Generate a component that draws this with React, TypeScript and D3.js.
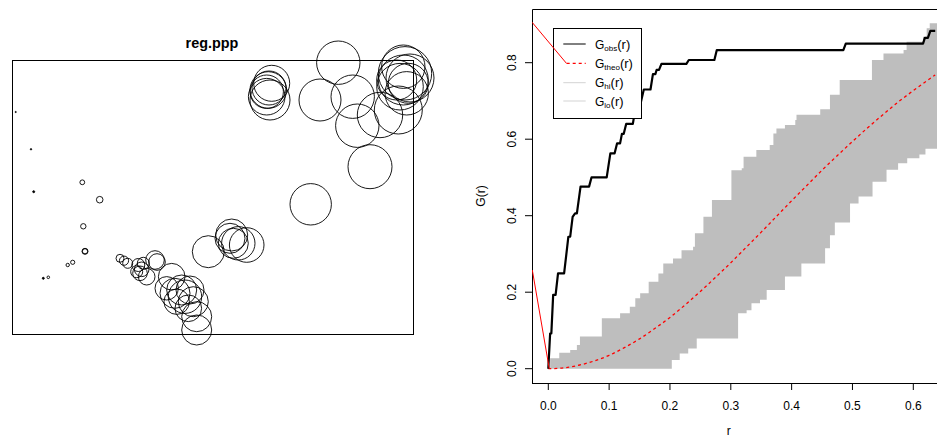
import * as d3 from "d3"

const FONT = "'Liberation Sans', Arial, Helvetica, sans-serif"

// ---- left panel: reg.ppp, window is 40.1 x 27.4 units, marks drawn as circles
const winW = 40.1
const winH = 27.4
const ptX = [0.37, 1.9, 2.17, 3.13, 3.63, 5.57, 6.07, 7.03, 8.77, 7.13, 7.3, 7.3, 10.8, 11.2, 11.57,
  12.63, 12.97, 12.8, 13.13, 13.47, 12.47, 14.3, 14.5,
  15.97, 15.47, 16.3, 16.97, 17.8, 17.3, 16.47, 18.13, 18.47, 18.47, 17.63,
  19.63, 21.97, 22.13, 22.63, 23.47, 21.8,
  29.87, 35.8, 34.53, 30.8, 32.63, 34.07, 36.8, 38.63,
  39.13, 39.3, 38.8, 39.47, 38.47, 39.13, 39.63, 39.8,
  25.63, 25.8, 25.47, 25.97, 25.47, 25.7]
const ptY = [22.2, 18.47, 14.23, 5.57, 5.67, 6.9, 7.17, 15.17, 13.43, 10.77, 8.27, 8.27, 7.57, 7.33, 7.07,
  6.9, 6.47, 6.07, 7.07, 5.73, 6.23, 7.4, 7.2,
  5.73, 4.57, 4.07, 4.4, 4.4, 3.73, 3.23, 3.23, 1.73, 0.4, 2.57,
  8.23, 9.9, 9.07, 9.07, 8.9, 9.57,
  12.97, 16.73, 20.83, 23.4, 27.13, 23.73, 21.9, 22.4,
  25.4, 26.07, 24.73, 24.07, 25.4, 26.73, 25.07, 25.6,
  24.4, 23.4, 24.23, 25.07, 23.73, 24.6]
const ptMark = [0.06, 0.07, 0.1, 0.1, 0.13, 0.17, 0.21, 0.24, 0.33, 0.27, 0.3, 0.26, 0.4, 0.46, 0.5,
  0.65, 0.73, 0.73, 0.6, 0.83, 0.6, 0.93, 0.83,
  1.33, 1.17, 1.5, 1.5, 1.4, 1.67, 1.27, 1.5, 1.5, 1.5, 1.33,
  1.6, 1.6, 1.5, 1.67, 1.73, 1.5,
  2.07, 2.2, 2.17, 2.1, 2.17, 2.17, 2.27, 2.4,
  2.5, 2.67, 2.33, 2.17, 2.0, 2.17, 2.0, 2.4,
  1.83, 2.0, 1.67, 1.8, 1.83, 1.7]

// ---- right panel: G function envelope
const obsR = [0, 0.003, 0.005, 0.008, 0.012, 0.016, 0.026, 0.033, 0.036, 0.04, 0.044, 0.047, 0.053, 0.067,
  0.071, 0.096, 0.102, 0.109, 0.113, 0.118, 0.121, 0.124, 0.128, 0.139, 0.144, 0.151, 0.157, 0.168,
  0.172, 0.176, 0.178, 0.182, 0.186, 0.227, 0.231, 0.273, 0.277, 0.485, 0.489, 0.616, 0.619, 0.624,
  0.628, 0.636]
const obsG = [0, 0.092, 0.092, 0.193, 0.193, 0.249, 0.249, 0.345, 0.345, 0.397, 0.406, 0.406, 0.476, 0.476,
  0.5, 0.5, 0.563, 0.563, 0.589, 0.589, 0.614, 0.614, 0.64, 0.64, 0.689, 0.689, 0.73, 0.73,
  0.77, 0.77, 0.781, 0.781, 0.797, 0.797, 0.807, 0.807, 0.833, 0.833, 0.85, 0.85, 0.865, 0.865,
  0.883, 0.883]
const theoR = [0, 0.025, 0.05, 0.075, 0.1, 0.125, 0.15, 0.175, 0.2, 0.225, 0.25, 0.275, 0.3, 0.325,
  0.35, 0.375, 0.4, 0.425, 0.45, 0.475, 0.5, 0.525, 0.55, 0.575, 0.6, 0.636]
const theoG = [0, 0.002, 0.009, 0.02, 0.035, 0.055, 0.078, 0.105, 0.134, 0.167, 0.202, 0.239, 0.277, 0.317,
  0.357, 0.398, 0.439, 0.479, 0.519, 0.557, 0.594, 0.63, 0.664, 0.697, 0.727, 0.768]
const hiR = [0, 0.003, 0.018, 0.036, 0.047, 0.052, 0.088, 0.118, 0.134, 0.143, 0.151, 0.165, 0.181, 0.189,
  0.205, 0.219, 0.238, 0.241, 0.255, 0.269, 0.301, 0.318, 0.321, 0.342, 0.364, 0.37, 0.375, 0.389,
  0.406, 0.408, 0.447, 0.463, 0.479, 0.532, 0.551, 0.584, 0.589, 0.616, 0.622, 0.627, 0.645]
const hiG = [0, 0.027, 0.042, 0.049, 0.062, 0.084, 0.132, 0.145, 0.162, 0.184, 0.197, 0.227, 0.249, 0.275,
  0.288, 0.31, 0.319, 0.354, 0.397, 0.441, 0.519, 0.524, 0.554, 0.572, 0.585, 0.615, 0.628, 0.637,
  0.65, 0.664, 0.678, 0.716, 0.755, 0.807, 0.824, 0.833, 0.855, 0.868, 0.89, 0.903, 0.903]
const loR = [0, 0.203, 0.216, 0.23, 0.244, 0.312, 0.326, 0.334, 0.348, 0.359, 0.389, 0.416, 0.455, 0.463,
  0.471, 0.496, 0.51, 0.533, 0.556, 0.575, 0.59, 0.61, 0.62, 0.645]
const loG = [0, 0.023, 0.04, 0.053, 0.079, 0.145, 0.153, 0.171, 0.18, 0.206, 0.241, 0.275, 0.315, 0.349,
  0.382, 0.432, 0.45, 0.489, 0.52, 0.537, 0.55, 0.56, 0.575, 0.575]
// stray red segments drawn by the device
const strayR = [[-0.0268, 0.03], [-0.0263, 0.0016]]
const strayG = [[0.906, 0.798], [0.258, 0]]

const rTicks = [0, 0.1, 0.2, 0.3, 0.4, 0.5, 0.6]
const gTicks = [0, 0.2, 0.4, 0.6, 0.8]
const legendSubs = ["obs", "theo", "hi", "lo"]

export default function App() {
  // left panel scales
  const px = d3.scaleLinear().domain([0, winW]).range([12, 413])
  const py = d3.scaleLinear().domain([0, winH]).range([334, 60])
  const pr = (m: number) => px(m) - px(0)

  // right panel
  const box = { left: 532, top: 9, right: 960, bottom: 383 }
  const x = d3.scaleLinear().domain([0, 0.6]).range([548.3, 913.3])
  const y = d3.scaleLinear().domain([0, 0.8]).range([368.7, 62.7])

  const stepAt = (rs: number[], gs: number[], r: number) => gs[Math.max(0, d3.bisectRight(rs, r) - 1)]
  const grid = Array.from(new Set([...hiR, ...loR])).sort((a, b) => a - b)
  const band = d3.area<number>()
    .curve(d3.curveStepAfter)
    .x((r) => x(r))
    .y0((r) => y(stepAt(loR, loG, r)))
    .y1((r) => y(stepAt(hiR, hiG, r)))(grid)

  const line = d3.line<[number, number]>().x((d) => x(d[0])).y((d) => y(d[1]))
  const obsPath = line(obsR.map((r, i) => [r, obsG[i]]))
  const theoPath = d3.line<[number, number]>().curve(d3.curveMonotoneX)
    .x((d) => x(d[0])).y((d) => y(d[1]))(theoR.map((r, i) => [r, theoG[i]]))

  const legY = [44, 63.3, 82.7, 101]
  const legColor = ["#000", "red", "#d3d3d3", "#d3d3d3"]

  return (
    <svg width={937} height={438} style={{ position: "absolute", left: 0, top: 0, background: "#fff" }}
      fontFamily={FONT}>
      <defs>
        <clipPath id="plotclip">
          <rect x={box.left} y={box.top} width={box.right - box.left} height={box.bottom - box.top} />
        </clipPath>
      </defs>

      {/* left: point pattern */}
      <text x={212} y={48} textAnchor="middle" fontSize={14.4} fontWeight="bold">reg.ppp</text>
      <rect x={12.5} y={60.5} width={px(winW) - px(0)} height={py(0) - py(winH)} fill="none" stroke="#000" strokeWidth={1} />
      {ptX.map((v, i) => (
        <circle key={i} cx={px(v)} cy={py(ptY[i])} r={Math.max(pr(ptMark[i]), 0.6)}
          fill={pr(ptMark[i]) < 1.2 ? "#000" : "none"} stroke="#000" strokeWidth={0.9} />
      ))}

      {/* right: G function */}
      <g clipPath="url(#plotclip)">
        <path d={band ?? ""} fill="#bebebe" stroke="none" />
        <path d={theoPath ?? ""} fill="none" stroke="red" strokeWidth={1.3} strokeDasharray="3,3" />
        <path d={obsPath ?? ""} fill="none" stroke="#000" strokeWidth={2.2} strokeLinejoin="round" />
      </g>
      <path d={`M${box.left + 0.5},${box.bottom + 0.5}V${box.top + 0.5}H${box.right}M${box.left},${box.bottom + 0.5}H${box.right}`}
        fill="none" stroke="#000" strokeWidth={1} />

      {rTicks.map((t) => (
        <g key={t}>
          <line x1={x(t)} x2={x(t)} y1={box.bottom} y2={box.bottom + 7} stroke="#000" />
          <text x={x(t)} y={410} textAnchor="middle" fontSize={12}>{d3.format(".1f")(t)}</text>
        </g>
      ))}
      {gTicks.map((t) => (
        <g key={t}>
          <line x1={box.left - 7} x2={box.left} y1={y(t)} y2={y(t)} stroke="#000" />
          <text transform={`translate(516,${y(t)}) rotate(-90)`} textAnchor="middle" fontSize={12}>
            {d3.format(".1f")(t)}
          </text>
        </g>
      ))}
      <text x={x(0.3) - 2} y={435} textAnchor="middle" fontSize={12}>r</text>
      <text transform={`translate(485,${(box.top + box.bottom) / 2}) rotate(-90)`} textAnchor="middle" fontSize={12}>G(r)</text>

      {/* legend */}
      <rect x={553.5} y={28.5} width={88} height={90} fill="#fff" stroke="#000" strokeWidth={1} />
      {legendSubs.map((s, i) => (
        <g key={s}>
          <line x1={i === 1 ? 566.7 : 563.3} x2={585.7} y1={legY[i]} y2={legY[i]} stroke={legColor[i]}
            strokeWidth={i === 1 ? 1.3 : 1} strokeDasharray={i === 1 ? "3,3" : undefined} />
          <text x={595} y={legY[i] + 4.5} fontSize={12}>
            G<tspan fontSize={8} dy={2}>{s}</tspan><tspan fontSize={13} dy={-2}>(r)</tspan>
          </text>
        </g>
      ))}

      {/* stray red segments */}
      <g clipPath="url(#plotclip)">
        {strayR.map((rs, i) => (
          <path key={i} d={line(rs.map((r, j) => [r, strayG[i][j]])) ?? ""} fill="none" stroke="red" strokeWidth={1} />
        ))}
      </g>
    </svg>
  )
}
